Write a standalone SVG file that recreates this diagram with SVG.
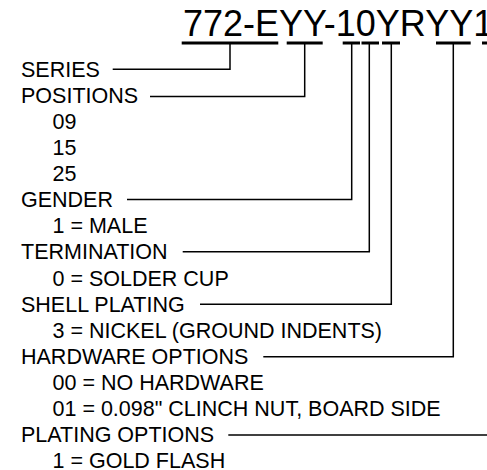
<svg xmlns="http://www.w3.org/2000/svg" width="487" height="470" viewBox="0 0 487 470">
<style>
.t{font-family:"Liberation Sans",Arial,sans-serif;font-size:21.5px;fill:#000}
.title{font-family:"Liberation Sans",Arial,sans-serif;font-size:36px;fill:#000}
.bar{stroke:#000;stroke-width:3;fill:none}
.ln{stroke:#000;stroke-width:1.5;fill:none}
</style>
<rect width="487" height="470" fill="#fff"/>
<g id="title">
<text class="title" x="183" y="36">772-EYY-10YRYY1</text>
</g>
<g id="bars">
<line class="bar" x1="181.7" y1="43" x2="278.3" y2="43"/>
<line class="bar" x1="286.7" y1="43" x2="322.7" y2="43"/>
<line class="bar" x1="342.7" y1="43" x2="360" y2="43"/>
<line class="bar" x1="361.5" y1="43" x2="379" y2="43"/>
<line class="bar" x1="382" y1="43" x2="400" y2="43"/>
<line class="bar" x1="436" y1="43" x2="470.7" y2="43"/>
<line class="bar" x1="482" y1="43" x2="490" y2="43"/>
</g>
<g id="connectors">
<polyline class="ln" points="230,43 230,69.3 112.7,69.3"/>
<polyline class="ln" points="304.7,43 304.7,96.5 150,96.5"/>
<polyline class="ln" points="351.7,43 351.7,199.5 127,199.5"/>
<polyline class="ln" points="369.3,43 369.3,251.7 182.7,251.7"/>
<polyline class="ln" points="391.3,43 391.3,304.3 200,304.3"/>
<polyline class="ln" points="453.3,43 453.3,356.7 263.3,356.7"/>
<polyline class="ln" points="490,435 228.3,435"/>
</g>
<g id="series"><text class="t" x="21" y="76.7">SERIES</text></g>
<g id="positions">
<text class="t" x="21" y="102.8">POSITIONS</text>
<text class="t" x="52.5" y="128.9">09</text>
<text class="t" x="52.5" y="155">15</text>
<text class="t" x="52.5" y="181.1">25</text>
</g>
<g id="gender">
<text class="t" x="21" y="207.2">GENDER</text>
<text class="t" x="52.5" y="233.3">1 = MALE</text>
</g>
<g id="termination">
<text class="t" x="21" y="259.4">TERMINATION</text>
<text class="t" x="52.5" y="285.5">0 = SOLDER CUP</text>
</g>
<g id="shell-plating">
<text class="t" x="21" y="311.6">SHELL PLATING</text>
<text class="t" x="52.5" y="337.7">3 = NICKEL (GROUND INDENTS)</text>
</g>
<g id="hardware-options">
<text class="t" x="21" y="363.8">HARDWARE OPTIONS</text>
<text class="t" x="52.5" y="389.9">00 = NO HARDWARE</text>
<text class="t" x="52.5" y="416">01 = 0.098" CLINCH NUT, BOARD SIDE</text>
</g>
<g id="plating-options">
<text class="t" x="21" y="442.1">PLATING OPTIONS</text>
<text class="t" x="52.5" y="467.8">1 = GOLD FLASH</text>
</g>
</svg>
